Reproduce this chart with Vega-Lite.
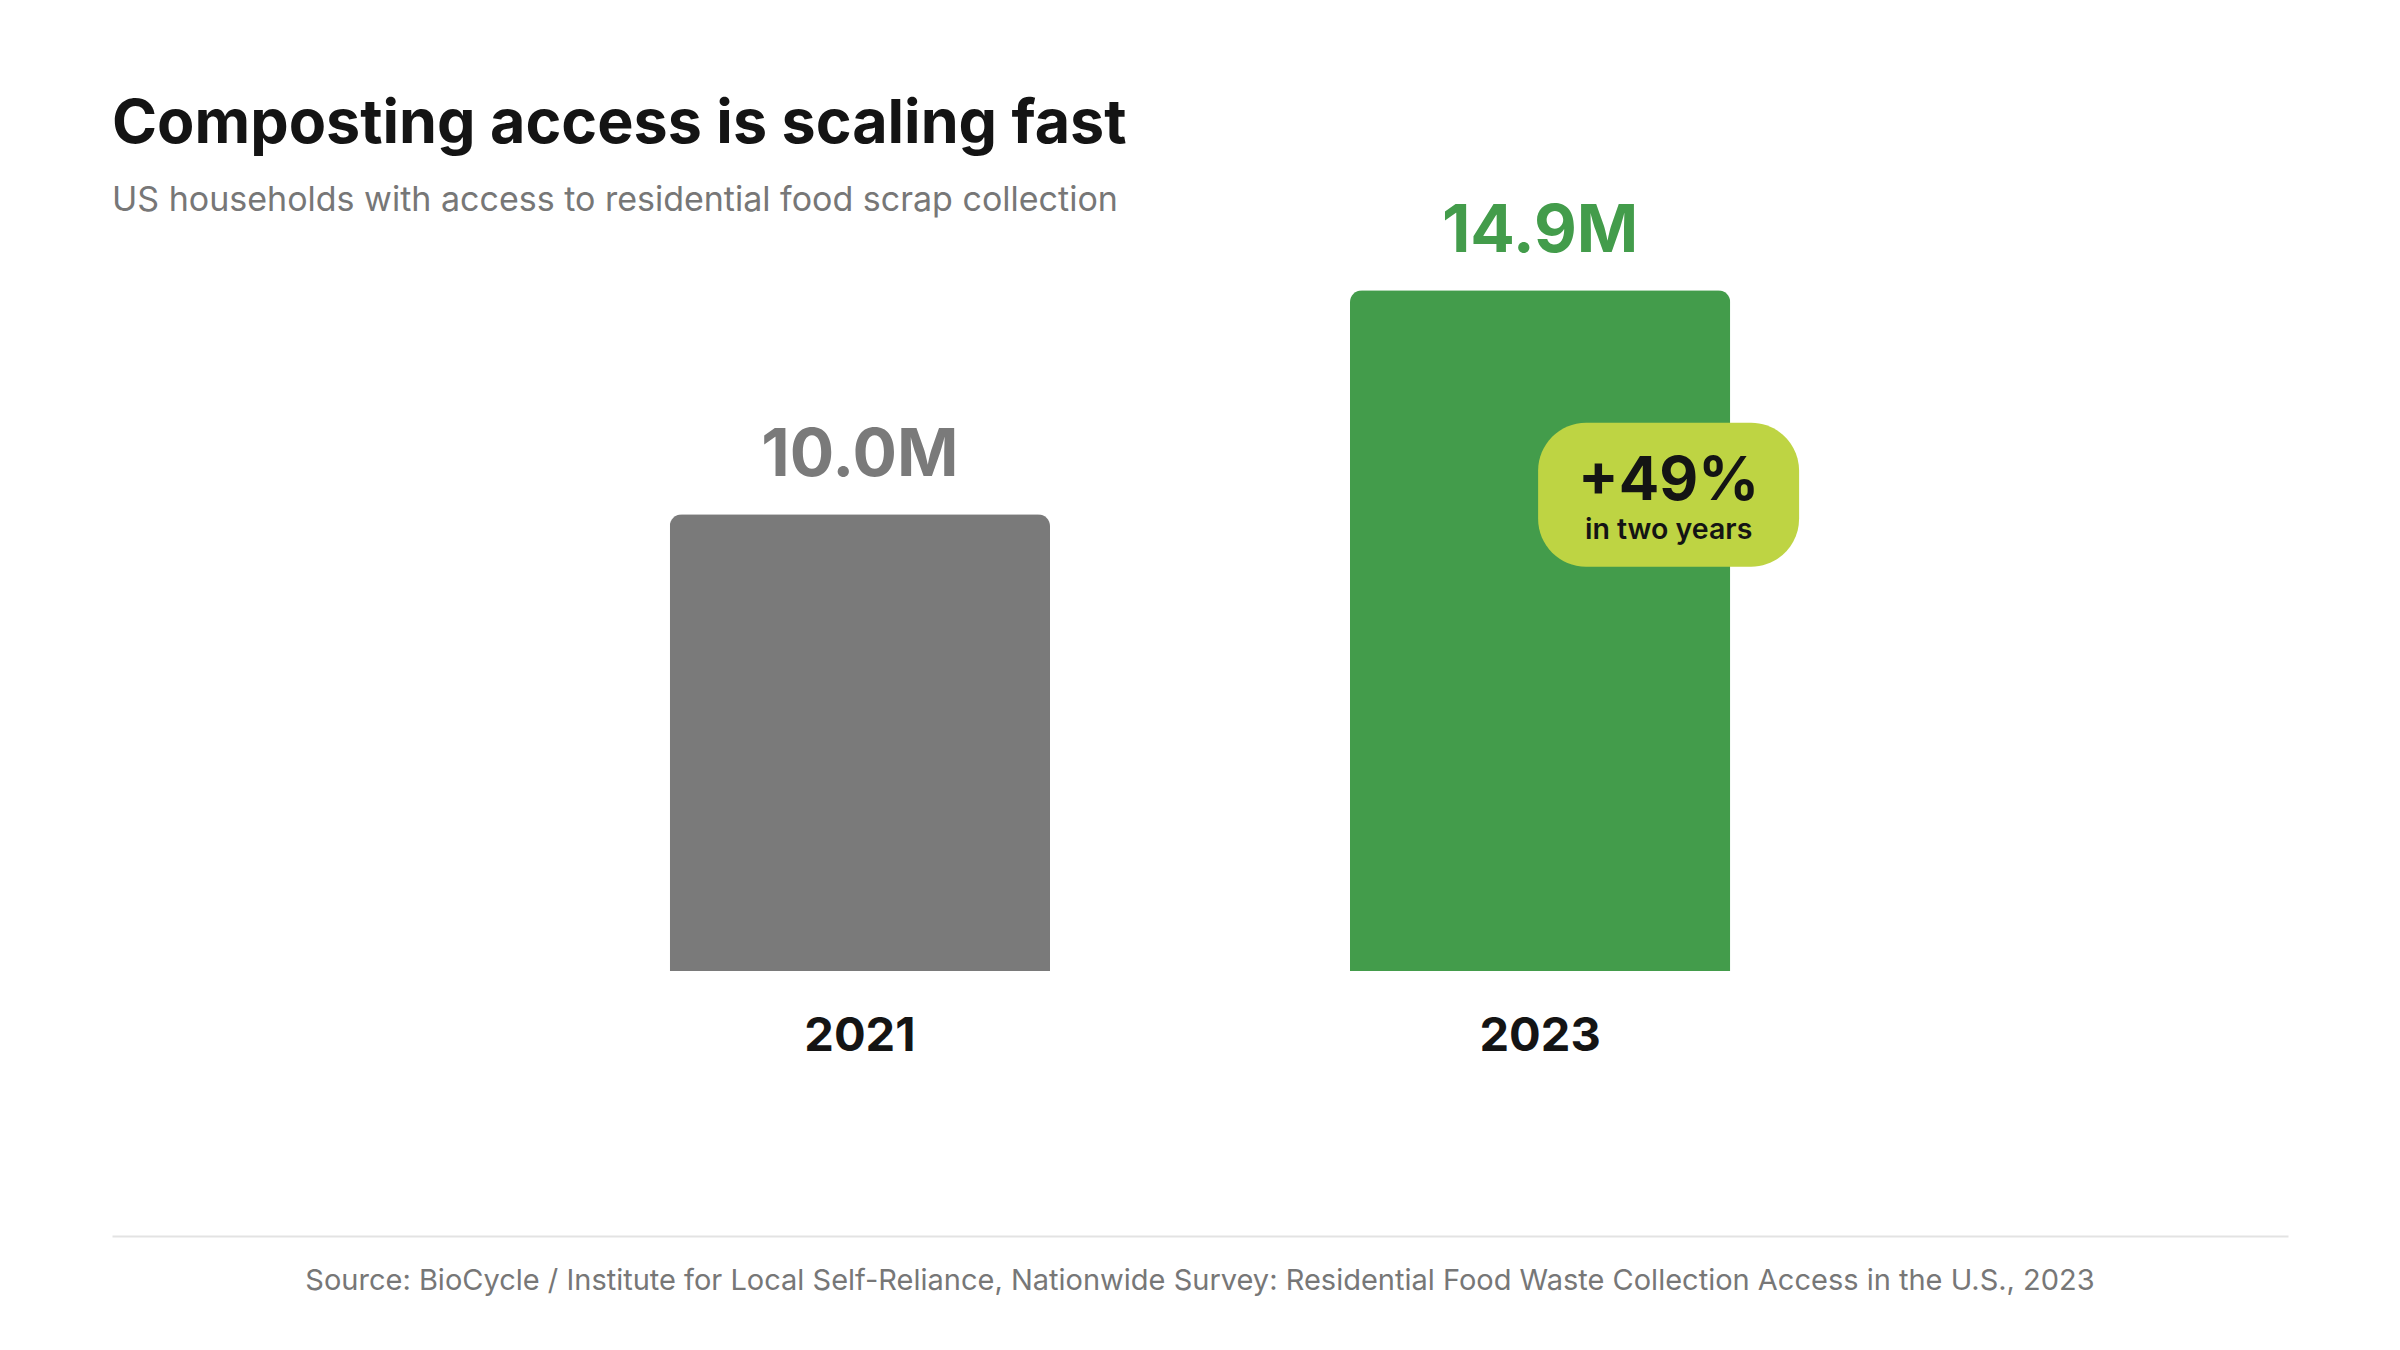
{
  "$schema": "https://vega.github.io/schema/vega-lite/v6.json",
  "background": "#ffffff",
  "padding": {"left": 112, "top": 94, "right": 112, "bottom": 0},
  "config": {
    "font": "Inter",
    "view": {"stroke": null}
  },
  "spacing": 177,
  "vconcat": [
    {
      "width": 2176,
      "height": 731,
      "title": {
        "text": "Composting access is scaling fast",
        "subtitle": "US households with access to residential food scrap collection",
        "anchor": "start",
        "frame": "group",
        "font": "Inter",
        "fontSize": 61,
        "fontWeight": 700,
        "color": "#141414",
        "subtitleFont": "Inter",
        "subtitleFontSize": 34,
        "subtitleFontWeight": 400,
        "subtitleColor": "#777777",
        "subtitlePadding": 28,
        "offset": -20
      },
      "data": {
        "values": [
          {"year": "2021", "households": 10.0, "label": "10.0M"},
          {"year": "2023", "households": 14.9, "label": "14.9M"}
        ]
      },
      "encoding": {
        "x": {
          "field": "year",
          "type": "nominal",
          "sort": null,
          "scale": {"paddingInner": 0.441, "paddingOuter": 0.82},
          "axis": {
            "title": null,
            "domain": false,
            "ticks": false,
            "tickSize": 0,
            "grid": false,
            "labelAngle": 0,
            "labelFont": "Inter",
            "labelFontSize": 47,
            "labelFontWeight": 700,
            "labelColor": "#141414",
            "labelBaseline": "alphabetic",
            "labelPadding": 79
          }
        }
      },
      "layer": [
        {
          "mark": {"type": "bar", "cornerRadiusTopLeft": 12, "cornerRadiusTopRight": 12},
          "encoding": {
            "y": {
              "field": "households",
              "type": "quantitative",
              "scale": {"domain": [0, 16], "nice": false, "zero": true},
              "axis": null
            },
            "color": {
              "field": "year",
              "type": "nominal",
              "scale": {"domain": ["2021", "2023"], "range": ["#7a7a7a", "#439c4b"]},
              "legend": null
            }
          }
        },
        {
          "mark": {"type": "text", "font": "Inter", "fontSize": 66, "fontWeight": 700, "baseline": "alphabetic", "align": "center", "dy": -38},
          "encoding": {
            "y": {"field": "households", "type": "quantitative"},
            "text": {"field": "label"},
            "color": {"field": "year", "type": "nominal", "legend": null}
          }
        },
        {
          "data": {
            "values": [
              {"year": "2023", "badgeTop": 12.0, "badgeBottom": 8.85, "change": "+49%", "note": "in two years"}
            ]
          },
          "layer": [
            {
              "mark": {"type": "bar", "width": 261, "xOffset": 128.5, "cornerRadius": 48, "color": "#bed443"},
              "encoding": {
                "y": {"field": "badgeTop", "type": "quantitative"},
                "y2": {"field": "badgeBottom"}
              }
            },
            {
              "mark": {"type": "text", "font": "Inter", "fontSize": 60, "fontWeight": 700, "color": "#141414", "baseline": "alphabetic", "align": "center", "dx": 128.5, "dy": 77},
              "encoding": {
                "y": {"field": "badgeTop", "type": "quantitative"},
                "text": {"field": "change"}
              }
            },
            {
              "mark": {"type": "text", "font": "Inter", "fontSize": 28.5, "fontWeight": 600, "color": "#141414", "baseline": "alphabetic", "align": "center", "dx": 128.5, "dy": 116},
              "encoding": {
                "y": {"field": "badgeTop", "type": "quantitative"},
                "text": {"field": "note"}
              }
            }
          ]
        }
      ]
    },
    {
      "width": 2176,
      "height": 80,
      "data": {
        "values": [
          {"source": "Source: BioCycle / Institute for Local Self-Reliance, Nationwide Survey: Residential Food Waste Collection Access in the U.S., 2023"}
        ]
      },
      "mark": {"type": "text", "font": "Inter", "fontSize": 29, "color": "#777777", "baseline": "alphabetic", "align": "center", "dy": 14},
      "encoding": {
        "x": {
          "datum": 0.5,
          "type": "quantitative",
          "scale": {"domain": [0, 1]},
          "axis": {
            "orient": "top",
            "title": null,
            "domain": true,
            "domainColor": "#e3e3e3",
            "domainWidth": 2,
            "ticks": false,
            "labels": false,
            "grid": false
          }
        },
        "text": {"field": "source"}
      }
    }
  ]
}
